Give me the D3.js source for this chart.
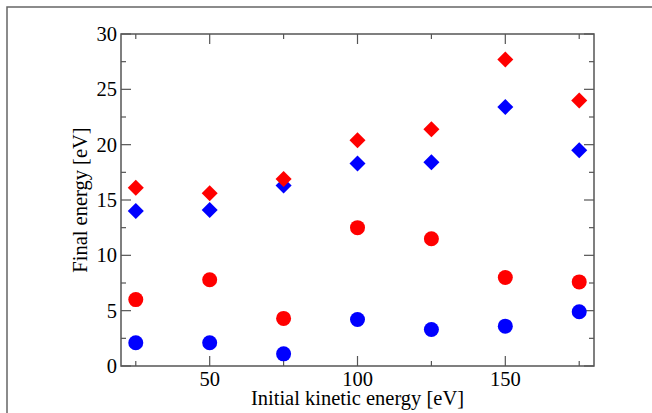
<!DOCTYPE html>
<html>
<head>
<meta charset="utf-8">
<script src="https://cdn.jsdelivr.net/npm/d3@7"></script>
<style>
  body { margin: 0; background: #fff; }
  svg { display: block; font-family: "Liberation Serif", "DejaVu Serif", serif; }
</style>
</head>
<body>
<svg id="chart" width="652" height="413"></svg>
<script>
// initial kinetic energy [eV]
var energies = [25, 50, 75, 100, 125, 150, 175];
// final energy [eV]
var redDiamonds = [16.1, 15.6, 16.9, 20.4, 21.4, 27.7, 24.0];
var blueDiamonds = [14.0, 14.1, 16.3, 18.3, 18.4, 23.4, 19.5];
var redCircles = [6.0, 7.8, 4.3, 12.5, 11.5, 8.0, 7.6];
var blueCircles = [2.1, 2.1, 1.1, 4.2, 3.3, 3.6, 4.9];
var xTicks = [50, 100, 150];
var yTicks = [0, 5, 10, 15, 20, 25, 30];

var svg = d3.select('#chart');
var margin = {left: 121, top: 34, right: 58, bottom: 47};
var W = 652, H = 413;
var axisColor = '#555';
var fontSize = 20.5;

// outer frame (only top and left edges show in the picture)
svg.append('path')
    .attr('d', 'M7,413 V7 H652')
    .attr('fill', 'none')
    .attr('stroke', '#666')
    .attr('stroke-width', 1.5);

var x = d3.scaleLinear().domain([20, 180]).range([margin.left, W - margin.right]);
var y = d3.scaleLinear().domain([0, 30]).range([H - margin.bottom, margin.top]);

var x0 = x.range()[0], x1 = x.range()[1];
var y0 = y.range()[0], y1 = y.range()[1];

var xMinor = d3.range(25, 180, 50);
var yMinor = d3.range(2.5, 30, 5);

var g = svg.append('g');

var drawTick = function(x1_, y1_, x2_, y2_) {
    g.append('line')
        .attr('x1', x1_).attr('y1', y1_)
        .attr('x2', x2_).attr('y2', y2_)
        .attr('stroke', axisColor).attr('stroke-width', 1.2);
};

// ticks, pointing inward on all four sides
xTicks.forEach(function(v) {
    drawTick(x(v), y0, x(v), y0 - 10);
    drawTick(x(v), y1, x(v), y1 + 10);
});
xMinor.forEach(function(v) {
    drawTick(x(v), y0, x(v), y0 - 5);
    drawTick(x(v), y1, x(v), y1 + 5);
});
yTicks.forEach(function(v) {
    drawTick(x0, y(v), x0 + 10, y(v));
    drawTick(x1, y(v), x1 - 10, y(v));
});
yMinor.forEach(function(v) {
    drawTick(x0, y(v), x0 + 5, y(v));
    drawTick(x1, y(v), x1 - 5, y(v));
});

g.append('rect')
    .attr('x', x0).attr('y', y1)
    .attr('width', x1 - x0).attr('height', y0 - y1)
    .attr('fill', 'none')
    .attr('stroke', axisColor).attr('stroke-width', 1.5);

// tick labels
g.selectAll('.xl').data(xTicks).enter().append('text')
    .attr('class', 'xl')
    .attr('x', function(d) { return x(d); })
    .attr('y', y0 + 19.5)
    .attr('text-anchor', 'middle')
    .attr('font-size', fontSize)
    .text(function(d) { return d; });

g.selectAll('.yl').data(yTicks).enter().append('text')
    .attr('class', 'yl')
    .attr('x', x0 - 4)
    .attr('y', function(d) { return y(d) + 7; })
    .attr('text-anchor', 'end')
    .attr('font-size', fontSize)
    .text(function(d) { return d; });

// axis titles
svg.append('text')
    .attr('x', (x0 + x1) / 2)
    .attr('y', 404.5)
    .attr('text-anchor', 'middle')
    .attr('font-size', fontSize)
    .text('Initial kinetic energy [eV]');

svg.append('text')
    .attr('transform', 'translate(87,' + ((y0 + y1) / 2) + ') rotate(-90)')
    .attr('text-anchor', 'middle')
    .attr('font-size', fontSize)
    .text('Final energy [eV]');

// markers
var circleSeries = [
    {vals: blueCircles, color: '#0000ff'},
    {vals: redCircles, color: '#ff0000'}
];
var diamondSeries = [
    {vals: blueDiamonds, color: '#0000ff'},
    {vals: redDiamonds, color: '#ff0000'}
];

circleSeries.forEach(function(s) {
    svg.append('g').selectAll('circle')
        .data(s.vals)
        .enter().append('circle')
        .attr('cx', function(d, i) { return x(energies[i]); })
        .attr('cy', function(d) { return y(d); })
        .attr('r', 7.5)
        .attr('fill', s.color);
});

var diamond = d3.symbol().type(d3.symbolSquare).size(8 * 8 * 2);
diamondSeries.forEach(function(s) {
    svg.append('g').selectAll('path')
        .data(s.vals)
        .enter().append('path')
        .attr('d', diamond)
        .attr('transform', function(d, i) {
            return 'translate(' + x(energies[i]) + ',' + y(d) + ') rotate(45)';
        })
        .attr('fill', s.color);
});
</script>
</body>
</html>
